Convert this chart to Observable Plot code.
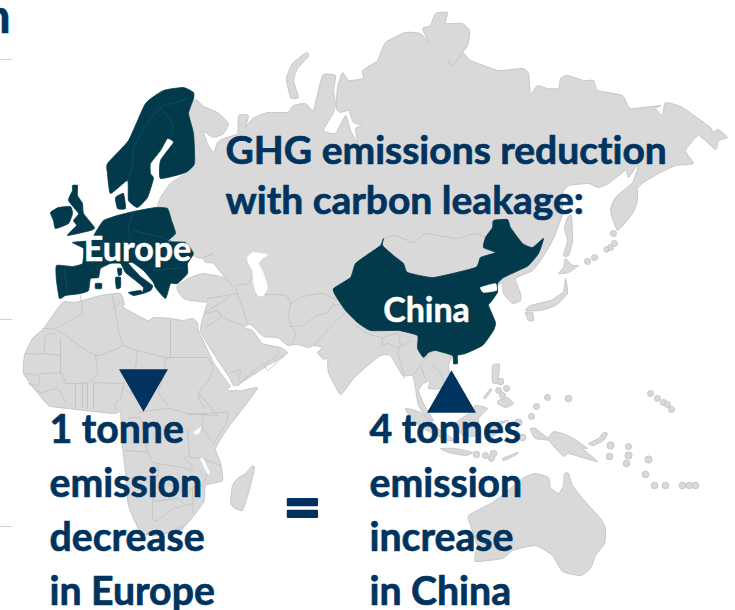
<!DOCTYPE html>
<html>
<head>
<meta charset="utf-8">
<script src="https://cdn.jsdelivr.net/npm/d3@7"></script>
<script src="https://cdn.jsdelivr.net/npm/@observablehq/plot@0.6"></script>
<style>
  html, body { margin: 0; padding: 0; background: #fff; }
  svg { display: block; font-variant-ligatures: none; }
  svg text { font-variant-ligatures: none; font-feature-settings: "liga" 0; }
  g[aria-label="arrow"] { filter: drop-shadow(1px 3px 3px rgba(0,0,0,.4)); }
</style>
</head>
<body>
<div id="chart"></div>
<script>
// Map outlines, in map units (origin top-left)
const eurasia = [[197,100],[203,106],[217,112],[228,123],[223,133],[213,137],[203,131],[207,143],[213,152],[217,142],[223,138],[237,133],[238,115],[248,115],[245,127],[252,118],[267,112],[287,112],[293,105],[305,103],[313,110],[322,75],[335,75],[333,90],[335,103],[333,112],[323,130],[335,133],[345,115],[350,130],[357,142],[355,128],[362,125],[353,122],[348,110],[340,112],[336,108],[337,87],[342,72],[348,80],[363,78],[362,70],[377,60],[385,42],[405,32],[420,33],[428,42],[422,28],[430,25],[435,13],[447,12],[445,23],[462,23],[469,30],[467,45],[452,65],[448,60],[452,66],[463,53],[470,60],[498,70],[522,68],[528,73],[530,94],[537,85],[547,88],[558,88],[560,78],[567,75],[583,80],[593,80],[597,90],[622,95],[630,108],[660,105],[655,108],[662,115],[665,102],[682,107],[710,127],[712,132],[718,129],[727,137],[718,140],[715,149],[698,135],[685,150],[693,163],[675,165],[658,173],[643,182],[637,188],[637,200],[632,213],[617,230],[610,210],[615,197],[632,182],[638,165],[635,167],[628,177],[625,170],[608,183],[598,187],[588,183],[568,185],[562,193],[562,213],[560,220],[552,240],[542,257],[532,270],[515,278],[520,293],[520,300],[512,303],[503,293],[502,283],[497,285],[485,305],[485,325],[475,340],[460,352],[452,356],[448,365],[450,380],[440,388],[428,388],[430,380],[423,383],[418,390],[424,405],[433,420],[428,420],[418,405],[415,388],[412,375],[402,375],[390,355],[380,355],[365,367],[353,378],[340,394],[328,372],[327,358],[323,359],[317,352],[322,347],[313,345],[308,347],[297,344],[288,345],[283,342],[277,337],[263,336],[250,324],[243,327],[252,330],[262,343],[280,347],[287,352],[280,358],[267,365],[238,384],[233,385],[229,377],[213,353],[200,330],[205,308],[207,302],[190,300],[183,298],[177,290],[177,285],[190,277],[202,273],[220,276],[225,278],[213,263],[205,262],[203,257],[213,253],[200,258],[190,253],[185,243],[167,241],[175,233],[171,220],[167,208],[157,207],[160,197],[170,183],[185,173],[194,163],[193,133],[188,113],[193,100]];
const africa = [[62,302],[75,302],[100,295],[120,293],[124,304],[123,307],[147,320],[153,317],[170,318],[183,320],[192,318],[197,322],[198,330],[213,362],[227,382],[230,385],[227,390],[242,390],[257,388],[227,428],[215,448],[220,462],[222,480],[205,485],[203,502],[182,528],[155,535],[140,532],[128,505],[125,472],[122,445],[120,412],[113,413],[67,408],[48,405],[33,387],[23,373],[24,355],[32,338],[43,328]];
const australia = [[528,475],[535,473],[548,477],[550,487],[558,493],[563,485],[564,473],[568,473],[572,485],[582,498],[600,518],[605,528],[604,543],[595,555],[590,568],[580,575],[562,571],[552,555],[535,545],[512,550],[502,558],[475,561],[475,553],[477,545],[470,525],[468,515],[492,502],[505,492],[522,478]];
const madagascar = [[252,465],[254,468],[248,492],[242,510],[233,507],[230,502],[232,485],[237,478],[245,473]];
const novayaZemlya = [[306,52],[308,56],[297,68],[293,80],[298,97],[290,97],[286,78],[292,63]];
const sakhalin = [[567,217],[571,215],[572,240],[568,255],[563,255],[567,240],[564,227]];
const hokkaido = [[565,258],[572,265],[578,265],[568,272],[558,273],[563,267]];
const honshu = [[565,278],[567,293],[555,305],[540,310],[525,310],[530,305],[550,300],[563,291]];
const kyushu = [[525,312],[532,312],[533,320],[528,320]];
const luzon = [[492,365],[499,364],[497,382],[492,382]];
const mindanao = [[498,400],[507,397],[513,403],[505,407],[497,403]];
const palawan = [[483,397],[490,388],[491,390],[485,398]];
const sumatra = [[405,408],[420,412],[440,430],[455,440],[447,440],[430,432],[412,420]];
const java = [[440,448],[455,448],[472,452],[465,455],[448,452]];
const timor = [[502,458],[517,452],[516,454],[504,460]];
const borneo = [[475,405],[487,408],[478,418],[477,435],[462,435],[455,423],[468,413]];
const sulawesi = [[492,423],[508,420],[498,425],[497,432],[490,438],[488,428]];
const newGuinea = [[530,428],[535,428],[547,437],[553,431],[562,433],[573,438],[587,448],[582,448],[597,461],[582,457],[568,453],[563,456],[555,448],[548,440],[535,438],[531,432]];
const newBritain = [[588,443],[598,438],[603,432],[607,433],[603,440],[593,445]];
const land = [eurasia, africa, australia, madagascar, novayaZemlya, sakhalin, hokkaido, honshu, kyushu, luzon, mindanao, palawan, sumatra, java, timor, borneo, sulawesi, newGuinea, newBritain];

// Small islands
const islands = [[587,261,2.5],[594,257,2.5],[606,249,2],[610,247,2.5],[614,243,2.5],[613,233,2.5],[500,381,3],[506,388,2.5],[498,390,2.5],[502,395,2.5],[547,397,2.5],[568,398,3],[536,406,2.5],[531,416,2.5],[650,393,2.5],[657,398,2.5],[663,402,2.5],[667,404,2.5],[671,409,2.5],[610,445,3.5],[628,446,2.5],[609,456,3],[628,455,3.5],[626,463,3],[648,459,3.5],[645,474,3],[654,485,3],[665,485,3],[682,485,3],[689,485,3],[695,485,3],[476,454,3],[485,455,2.5],[493,453,3],[491,458,2.5],[518,422,3.5],[522,437,3]];

// Seas and lakes cut out of the land
const caspian = [[247,257],[252,252],[267,254],[262,258],[258,263],[263,273],[267,287],[263,295],[257,295],[253,283],[252,270],[248,263]];
const victoria = [[193,432],[200,427],[199,432],[195,434]];
const malawi = [[200,458],[203,459],[209,472],[207,473]];
const bohai = [[495,283],[480,287],[483,292],[496,290]];

// Country borders on the grey land
const borders = [
  [[225,278],[235,288],[237,293],[225,295],[207,298]], [[235,285],[248,283],[252,275]], [[237,293],[242,308],[247,323]],
  [[255,295],[270,294],[285,295],[290,302],[288,315],[290,325],[295,333],[292,343]],
  [[290,303],[303,296],[322,293],[333,298],[347,303]], [[290,326],[302,325],[317,315],[327,312],[333,303]],
  [[313,345],[322,335],[333,323],[345,312],[355,305]], [[333,305],[343,303],[353,303]],
  [[355,325],[367,333],[382,337],[397,332]], [[382,337],[382,345],[388,343],[397,347],[410,340]], [[397,332],[400,345],[397,352],[403,372],[403,378]],
  [[217,310],[225,318],[242,325]], [[225,295],[227,298],[205,312],[208,313]], [[207,313],[217,310],[220,317],[205,327]],
  [[238,385],[242,380],[263,363],[267,370],[287,352]], [[265,363],[277,355],[277,347]], [[230,372],[240,370],[238,380]],
  [[412,375],[420,365],[432,350]], [[432,365],[440,372],[445,385]], [[420,365],[425,378]],
  [[80,295],[82,312],[75,317],[55,328],[42,328]], [[55,328],[95,355],[122,345],[118,332],[117,322],[112,295]], [[112,308],[122,300]],
  [[122,345],[137,350],[165,357],[170,357]], [[170,318],[170,357]], [[165,357],[207,357]],
  [[207,357],[213,368],[207,382],[198,392],[200,402],[205,408]], [[165,357],[163,375],[158,392],[168,405]], [[137,350],[135,368],[130,395]],
  [[95,355],[97,372],[88,382],[65,383],[62,373],[40,373]], [[60,338],[60,373]], [[55,333],[45,335],[43,353],[25,353]], [[43,353],[60,355]],
  [[25,373],[38,375],[38,385],[28,383],[40,392],[57,388],[65,402]],
  [[75,383],[75,407]], [[82,383],[82,407]], [[87,383],[87,408]], [[93,382],[93,408]],
  [[93,382],[113,383],[123,383],[120,398],[115,402],[115,410]], [[138,412],[168,408],[187,413],[217,415]], [[198,392],[217,415]],
  [[187,414],[203,413],[227,412],[226,422],[213,443]], [[203,413],[202,427],[213,443]], [[187,428],[189,455]], [[189,457],[202,458],[220,465]],
  [[207,473],[202,485],[192,487],[193,503],[192,512]], [[157,463],[182,467],[190,470],[192,465],[183,458],[189,455]],
  [[152,500],[152,518],[157,520],[173,508],[192,503]], [[125,450],[147,452],[152,462],[157,463],[157,475],[130,477]],
  [[157,475],[153,500],[177,498],[183,503]], [[167,483],[187,492],[192,487]], [[128,418],[140,418],[147,452]], [[177,528],[182,525],[182,530],[177,528]]
];
const mongoliaNorth = [[383,238],[395,235],[413,242],[425,233],[455,238],[475,233],[485,237]];

// Highlighted regions
const scandinavia = [[193,92],[193,98],[188,113],[193,133],[194,163],[185,172],[160,178],[160,160],[173,142],[167,138],[160,150],[150,163],[150,173],[153,178],[147,197],[137,207],[128,200],[127,180],[110,193],[107,173],[107,163],[128,140],[145,103],[163,90],[183,87]];
const denmark = [[115,197],[123,193],[125,208],[117,208]];
const continent = [[103,220],[117,215],[125,213],[133,211],[155,207],[167,208],[171,220],[175,233],[167,241],[185,242],[193,253],[187,263],[187,273],[177,283],[170,283],[165,298],[155,287],[153,282],[143,270],[132,262],[128,263],[140,276],[152,285],[150,290],[142,293],[143,287],[135,280],[125,272],[120,263],[110,263],[100,268],[98,277],[90,278],[88,290],[80,293],[65,295],[59,298],[56,280],[56,265],[72,266],[82,263],[83,248],[72,242],[90,240],[95,232]];
const britain = [[72,185],[77,185],[77,195],[82,203],[83,213],[94,227],[90,230],[67,235],[76,225],[73,220],[78,213],[68,200],[72,190]];
const ireland = [[50,212],[58,207],[70,206],[72,213],[68,223],[55,228],[53,220]];
const corsica = [[117,268],[121,268],[121,274],[118,275]];
const sardinia = [[115,277],[120,277],[120,287],[116,288]];
const balearic = [[95,283],[101,283],[101,288],[95,288]];
const sicily = [[128,292],[140,290],[142,293],[133,295]];
const china = [[383,238],[382,245],[393,255],[403,263],[407,272],[433,277],[475,267],[480,257],[495,252],[483,247],[485,237],[492,227],[493,220],[507,219],[510,227],[522,243],[532,247],[543,238],[538,253],[528,265],[518,270],[503,277],[497,283],[497,292],[490,302],[488,305],[495,322],[493,330],[482,345],[465,353],[457,355],[457,363],[453,363],[452,355],[435,350],[428,352],[423,357],[417,348],[417,335],[398,330],[370,330],[357,322],[345,310],[335,295],[333,288],[350,277],[355,263],[370,252],[380,245]];
const highlighted = [scandinavia, denmark, continent, britain, ireland, corsica, sardinia, balearic, sicily, china];

const innerBorders = [
  [[187,98],[173,103],[160,106],[147,123],[133,147],[132,167],[127,180]], [[160,107],[172,123],[170,137]],
  [[64,267],[67,293]], [[100,240],[105,262]], [[133,211],[128,228],[133,253]], [[133,230],[160,237],[170,240]], [[153,270],[183,267]]
];

// Annotation text
const headline = ["GHG emissions reduction", "with carbon leakage:"];
const leftLines = ["1 tonne", "emission", "decrease", "in Europe"];
const rightLines = ["4 tonnes", "emission", "increase", "in China"];
const regionLabels = [{name: "Europe", x: 137, y: 260}, {name: "China", x: 426, y: 321}];
const lineY = [442, 496, 550, 604];
const headlineY = [163, 213];
const gridStubs = [59, 319, 526];

const navy = "#00345f", dark = "#023a4c", grey = "#d9d9d9", edge = "#c6c6c6";
const font = "Lato, Carlito, sans-serif";
const px = d => d[0], py = d => d[1];
const shape = (pts, fill, stroke, strokeWidth = 1) =>
  Plot.line(pts, {x: px, y: py, fill, stroke, strokeWidth, curve: "cardinal-closed", tension: 0.55});
const path = (pts, stroke, strokeWidth = 0.8) =>
  Plot.line(pts, {x: px, y: py, stroke, strokeWidth, curve: "cardinal", tension: 0.55});
const boldText = {fontWeight: 700, fontFamily: font, lineAnchor: "bottom", stroke: navy, strokeWidth: 0.7, fill: navy};
const textLines = (lines, ys, x, fontSize) =>
  Plot.text(lines, {...boldText, x: () => x, y: (d, i) => ys[i], text: d => d, textAnchor: "start", fontSize});

const chart = Plot.plot({
  width: 735, height: 610,
  margin: 0,
  x: {domain: [0, 735], range: [0, 735], axis: null},
  y: {domain: [0, 610], range: [0, 610], axis: null},
  marks: [
    Plot.ruleY(gridStubs, {x1: 0, x2: 12, stroke: "#d0d0d0", strokeWidth: 1}),
    land.map(p => shape(p, grey, edge)),
    Plot.dot(islands, {x: px, y: py, r: d => d[2], fill: grey, stroke: edge, strokeWidth: 1}),
    borders.map(p => path(p, "#bfbfbf")),
    path(mongoliaNorth, "#bfbfbf"),
    highlighted.map(p => shape(p, dark, dark, 0.8)),
    innerBorders.map(p => path(p, "#0f5068", 0.8)),
    [caspian, victoria, malawi, bohai].map(p => shape(p, "#fff", "#fff", 0.5)),
    Plot.dot([{x: 143, y: 383, rotate: 180}, {x: 451, y: 398, rotate: 0}], {
      x: "x", y: "y", rotate: "rotate", symbol: "triangle", r: 18.2, fill: navy, stroke: "none", ariaLabel: "arrow"
    }),
    textLines(headline, headlineY, 225, 39),
    textLines(leftLines, lineY, 49, 39.2),
    textLines(rightLines, lineY, 369, 39.2),
    Plot.text(regionLabels, {x: "x", y: "y", text: "name", lineAnchor: "bottom", fill: "#fff", stroke: "#fff", strokeWidth: 0.5, fontWeight: 700, fontSize: 34, fontFamily: font}),
    Plot.text(["="], {...boldText, x: () => 302, y: () => 530, text: d => d, strokeWidth: 2, fontSize: 66}),
    Plot.text(["n"], {...boldText, x: () => 10, y: () => 32, text: d => d, textAnchor: "end", fontSize: 47})
  ]
});
document.getElementById("chart").append(chart);
</script>
</body>
</html>
